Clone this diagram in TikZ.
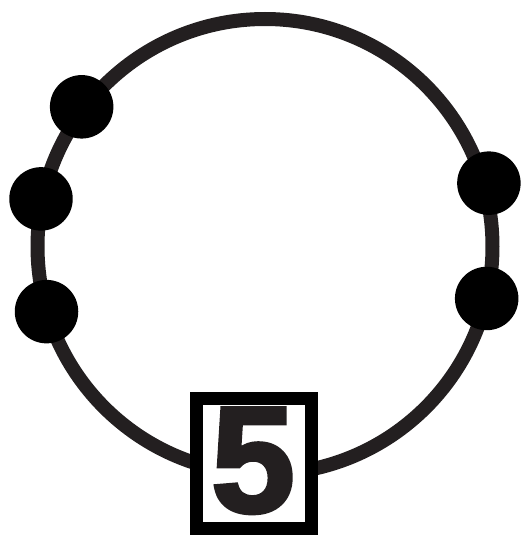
\documentclass[tikz,border=0pt]{standalone}
\usepackage{fontspec}
\newfontfamily\numfont[FakeBold=2.5]{Liberation Sans Bold}
\definecolor{cink}{HTML}{231F20}
\tikzset{
  ring/.style={draw=cink, line width=0.28cm},
  dot/.style={circle, fill=black, inner sep=0pt, minimum size=1.27cm},
  numbox/.style={draw=black, fill=white, line width=0.26cm, minimum width=2.3cm, minimum height=2.6cm, inner sep=0pt},
  numtext/.style={font=\numfont\fontsize{86}{86}\selectfont, text=cink, inner sep=0pt},
}
\begin{document}
\begin{tikzpicture}[x=0.02cm, y=0.02cm]
  \useasboundingbox[fill=white] (0,0) rectangle (522,535);
  \coordinate (ctr) at (265,288.5);
  \draw[ring] (ctr) circle[radius=227.5];
  % beads on the ring
  \foreach \a/\r [count=\i] in {142.7/230.5, 168/229, 196.6/228, 15.8/232.7, -13.2/227.7}
    \node[dot] (bead\i) at ([shift={(\a:\r)}]ctr) {};
  \node[numbox] (box) at (254,71.5) {};
  \node[numtext, anchor=base] (num) at (253,23) {5};
\end{tikzpicture}
\end{document}
